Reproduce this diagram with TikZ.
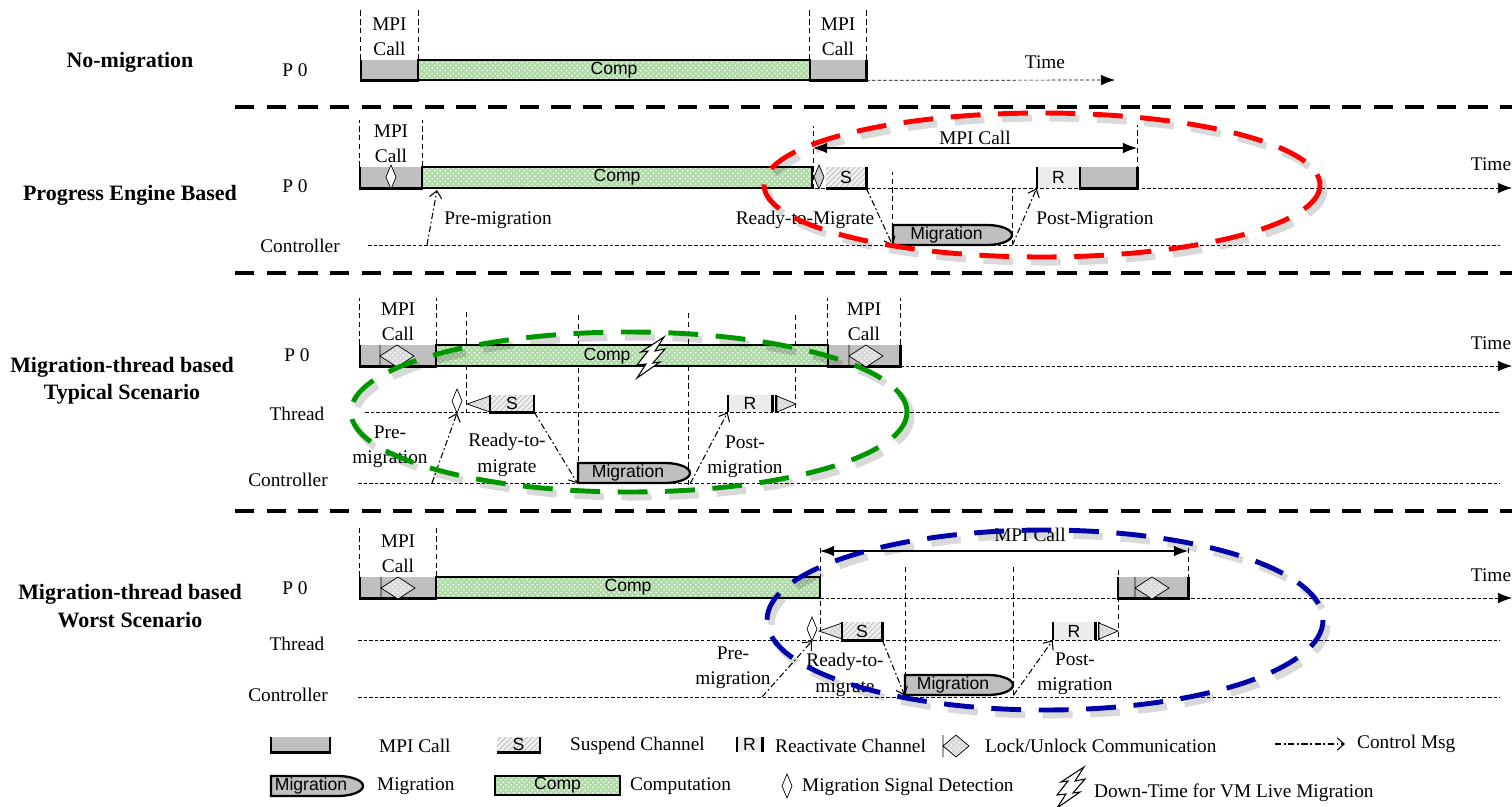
\documentclass[tikz,border=0pt]{standalone}
\usepackage{fontspec}
\setmainfont{Liberation Serif}
\setsansfont{Liberation Sans}
\usepackage{tikz}
\usetikzlibrary{arrows.meta,positioning,fit,patterns}

\definecolor{mpigray}{RGB}{191,191,191}
\definecolor{compgreen}{RGB}{176,218,168}
\definecolor{ringred}{RGB}{255,0,0}
\definecolor{ringgreen}{RGB}{0,150,0}
\definecolor{ringblue}{RGB}{0,0,170}

% pieces of a time line (corners in pixels)
\newcommand{\tlbox}[5][]{\node[#1,fit={(#3) (#4)},inner sep=0pt,
  label={[boxtxt]center:#5}] (#2) {};}
\newcommand{\mpibox}[3]{\tlbox[mpi]{#1}{#2}{#3}{}
  \draw[edge] (#1.north west) |- (#1.south east) -- (#1.north east);}
\newcommand{\migbox}[5]{%
  \draw[edge,fill=mpigray] (#2,#3) -- ({#4-25},#3)
    arc[start angle=90,end angle=-90,x radius=0.5cm,y radius=0.2cm] -- (#2,#5) -- cycle;
  \node[fit={(#2,#3) (#4,#5)},inner sep=0pt,
    label={[boxtxt,xshift=-0.12cm]center:Migration}] (#1) {};}
\newcommand{\lockmark}[2][17]{%
  \draw[lk] (#2) +(-#1,0) -- +(0,-11) -- +(#1,0) -- +(0,11) -- cycle +(0,-11) -- +(0,11);}
\newcommand{\sigmark}[2][white]{%
  \draw[thin,fill=#1] (#2) +(-5,0) -- +(0,-12) -- +(5,0) -- +(0,12) -- cycle;}
\newcommand{\lhalf}[1]{\draw[lk] (#1) +(0,-8) -- +(-23,0) -- +(0,8) -- cycle;}
\newcommand{\rhalf}[1]{\draw[lk] (#1) +(0,-8) -- +(19,0) -- +(0,8) -- cycle;}
\newcommand{\bolt}[1]{%
  \draw[semithick,fill=white] (#1) +(14,-20) -- +(5,-6) -- +(15,-8) -- +(3,6) -- +(10,5)
    -- +(-13,21) -- +(-4,7) -- +(-13,8) -- +(-2,-6) -- +(-9,-5) -- cycle;}

\begin{document}
\begin{tikzpicture}[x=0.02cm,y=-0.02cm,
  lbl/.style={font=\fontsize{11}{14.5}\selectfont,inner sep=1pt,align=center},
  ttl/.style={font=\bfseries\fontsize{12.5}{15.5}\selectfont,align=center},
  boxtxt/.style={font=\sffamily\fontsize{10}{11}\selectfont,inner sep=0pt},
  edge/.style={line width=1.3pt},
  mpi/.style={fill=mpigray},
  comp/.style={draw,edge,preaction={fill=compgreen},pattern=crosshatch dots,
               pattern color=white},
  sus/.style={preaction={fill=gray!12},pattern=north east lines,
              pattern color=gray!55},
  rea/.style={fill=gray!15},
  lk/.style={draw,thin,preaction={fill=gray!30},pattern=crosshatch dots,
             pattern color=white},
  guide/.style={thin,dash pattern=on 3pt off 2pt},
  track/.style={thin,dash pattern=on 2pt off 1.2pt},
  axis/.style={track,-{Latex[length=8pt,width=6pt]}},
  ctl/.style={semithick,dash pattern=on 3.5pt off 1.5pt on 1pt off 1.5pt,
              -{Straight Barb[length=4pt,width=7pt]}},
  span/.style={semithick,{Latex[length=8pt,width=6pt]}-{Latex[length=8pt,width=6pt]}},
  sep/.style={line width=2.2pt,dash pattern=on 11pt off 7pt},
  ring/.style={line width=2.8pt,dash pattern=on 17pt off 10pt},
  shade/.style={ring,draw=black,opacity=.15,line width=4pt}
]
\useasboundingbox (0,0) rectangle (1512,806);

\foreach \y [count=\i] in {107,273,511} {
  \coordinate (sepL\i) at (235,\y); \coordinate (sepR\i) at (1512,\y);
  \draw[sep] (sepL\i) -- (sepR\i);}

%% no migration
\node[ttl] (nm-title) at (130,62) {No-migration};
\node[lbl] (nm-p0) at (295,70) {P 0};
\mpibox{nm-mpi1}{361,60}{418,80}
\tlbox[comp]{nm-comp}{418,60}{810,80}{Comp}
\mpibox{nm-mpi2}{810,60}{866,80}
\coordinate (nm-end) at (1115,80);
\draw[axis] (nm-mpi2.south east) -- (nm-end);
\node[lbl] (nm-time) at (1045,62) {Time};
\node[lbl,above=1pt of nm-mpi1] (nm-call1) {MPI\\Call};
\node[lbl,above=1pt of nm-mpi2] (nm-call2) {MPI\\Call};
\foreach \n in {nm-mpi1,nm-mpi2}
  \draw[guide] (\n.north west) -- ++(0,-50) (\n.north east) -- ++(0,-50);

%% progress engine
\node[ttl] (pe-title) at (130,195) {Progress Engine Based};
\node[lbl] (pe-p0) at (295,186) {P 0};
\node[lbl] (pe-ctl) at (300,246) {Controller};
\coordinate (pe-c0) at (368,245); \coordinate (pe-c1) at (1500,245);
\coordinate (pe-t0) at (360,188); \coordinate (pe-t1) at (1512,188);
\draw[track] (pe-c0) -- (pe-c1);
\draw[axis] (pe-t0) -- (pe-t1);
\node[lbl] (pe-time) at (1491,164) {Time};
\mpibox{pe-mpi1}{360,167}{422,188}
\sigmark{391,177}
\tlbox[comp]{pe-comp}{422,167}{812,188}{Comp}
\sigmark[gray!40]{819,177}
\tlbox[sus]{pe-s}{826,167}{866,188}{S}
\draw[edge] (pe-s.north east) |- (pe-s.south west);
\tlbox[rea]{pe-r}{1037,167}{1080,188}{R}
\draw[edge] (pe-r.north west) -- (pe-r.south west);
\mpibox{pe-mpi2}{1080,167}{1137,188}
\migbox{pe-mig}{893}{225}{1012}{245}
\node[lbl,above=1pt of pe-mpi1] (pe-call) {MPI\\Call};
\draw[guide] (pe-mpi1.north west) -- ++(0,-47) (pe-mpi1.north east) -- ++(0,-47);
\draw[guide] (pe-comp.south east) -- ++(0,-63) (pe-mpi2.south east) -- ++(0,-63);
\draw[guide] (pe-mig.south west) -- ++(0,-73) (pe-mig.south east) -- ++(0,-57);
\coordinate (pe-sp0) at (813,148); \coordinate (pe-sp1) at (1137,148);
\draw[span] (pe-sp0) -- (pe-sp1);
\node[lbl] (pe-spl) at (975,138) {MPI Call};
\coordinate (pe-pre0) at (427,245); \coordinate (pe-pre1) at (437,190);
\draw[ctl] (pe-pre0) -- (pe-pre1);
\draw[ctl] (pe-s.south east) -- (pe-mig.south west);
\draw[ctl] (pe-mig.south east) -- (pe-r.south west);
\node[lbl] (pe-pre) at (498,220) {Pre-migration};
\node[lbl] (pe-ready) at (805,220) {Ready-to-Migrate};
\node[lbl] (pe-post) at (1095,220) {Post-Migration};
\draw[shade] (1046,190) ellipse [x radius=278,y radius=72];
\draw[ring,ringred] (1042,185) ellipse [x radius=278,y radius=72];

%% migration thread, typical
\node[ttl] (ty-title) at (122,381) {Migration-thread based\\Typical Scenario};
\node[lbl] (ty-p0) at (297,355) {P 0};
\node[lbl] (ty-thr) at (297,414) {Thread};
\node[lbl] (ty-ctl) at (288,480) {Controller};
\coordinate (ty-h0) at (365,412); \coordinate (ty-h1) at (1500,412);
\coordinate (ty-c0) at (358,483); \coordinate (ty-c1) at (1500,483);
\coordinate (ty-t0) at (900,366); \coordinate (ty-t1) at (1512,366);
\draw[track] (ty-h0) -- (ty-h1);
\draw[track] (ty-c0) -- (ty-c1);
\draw[axis] (ty-t0) -- (ty-t1);
\node[lbl] (ty-time) at (1491,343) {Time};
\foreach \x/\a/\b in {466/312/412,578/315/483,688/313/490,795/315/412}
  \draw[guide] (\x,\a) -- (\x,\b);
\mpibox{ty-mpi1}{360,345}{436,366}
\lockmark{397,356}
\tlbox[comp]{ty-comp}{436,345}{828,366}{}
\node[boxtxt] (ty-comp-t) at (607,356) {Comp};
\bolt{650,357}
\mpibox{ty-mpi2}{828,345}{900,366}
\lockmark{866,356}
\node[lbl,above=1pt of ty-mpi1] (ty-call1) {MPI\\Call};
\node[lbl,above=1pt of ty-mpi2] (ty-call2) {MPI\\Call};
\foreach \n in {ty-mpi1,ty-mpi2}
  \draw[guide] (\n.north west) -- ++(0,-47) (\n.north east) -- ++(0,-47);
\sigmark{457,401}
\lhalf{490,404}
\tlbox[sus]{ty-s}{490,395}{534,412}{S}
\draw[edge] (ty-s.north west) |- (ty-s.south east) -- (ty-s.north east);
\tlbox[rea]{ty-r}{728,395}{772,412}{R}
\draw[edge] (ty-r.north west) -- (ty-r.south west) (ty-r.north east) -- (ty-r.south east)
  ([xshift=0.07cm]ty-r.north east) -- ([xshift=0.07cm]ty-r.south east);
\rhalf{777,404}
\migbox{ty-mig}{578}{463}{690}{483}
\coordinate (ty-pre0) at (432,483); \coordinate (ty-pre1) at (457,413);
\draw[ctl] (ty-pre0) -- (ty-pre1);
\draw[ctl] (ty-s.south east) -- (ty-mig.south west);
\draw[ctl] (ty-mig.south east) -- (ty-r.south west);
\node[lbl] (ty-pre) at (390,447) {Pre-\\migration};
\node[lbl] (ty-ready) at (507,455) {Ready-to-\\migrate};
\node[lbl] (ty-post) at (745,457) {Post-\\migration};
\draw[shade] (633,417) ellipse [x radius=278,y radius=80];
\draw[ring,ringgreen] (629,412) ellipse [x radius=278,y radius=80];

%% migration thread, worst
\node[ttl] (wo-title) at (130,606) {Migration-thread based\\Worst Scenario};
\node[lbl] (wo-p0) at (295,588) {P 0};
\node[lbl] (wo-thr) at (297,644) {Thread};
\node[lbl] (wo-ctl) at (288,695) {Controller};
\coordinate (wo-h0) at (358,640); \coordinate (wo-h1) at (1500,640);
\coordinate (wo-c0) at (358,697); \coordinate (wo-c1) at (1500,697);
\coordinate (wo-t0) at (820,598); \coordinate (wo-t1) at (1512,598);
\draw[track] (wo-h0) -- (wo-h1);
\draw[track] (wo-c0) -- (wo-c1);
\draw[axis] (wo-t0) -- (wo-t1);
\node[lbl] (wo-time) at (1491,575) {Time};
\foreach \x/\a/\b in {820/548/640,1188/548/598,905/567/695,1013/567/695,1118/570/640}
  \draw[guide] (\x,\a) -- (\x,\b);
\mpibox{wo-mpi1}{360,577}{436,598}
\lockmark{398,588}
\tlbox[comp]{wo-comp}{436,577}{820,598}{Comp}
\mpibox{wo-mpi2}{1118,577}{1188,598}
\lockmark{1152,588}
\node[lbl,above=1pt of wo-mpi1] (wo-call) {MPI\\Call};
\draw[guide] (wo-mpi1.north west) -- ++(0,-49) (wo-mpi1.north east) -- ++(0,-49);
\coordinate (wo-sp0) at (820,551); \coordinate (wo-sp1) at (1188,551);
\draw[span] (wo-sp0) -- (wo-sp1);
\node[lbl] (wo-spl) at (1030,535) {MPI Call};
\sigmark{812,629}
\lhalf{842,631}
\tlbox[sus]{wo-s}{842,622}{882,640}{S}
\draw[edge] (wo-s.north west) |- (wo-s.south east) -- (wo-s.north east);
\tlbox[rea]{wo-r}{1053,622}{1095,640}{R}
\draw[edge] (wo-r.north west) -- (wo-r.south west) (wo-r.north east) -- (wo-r.south east)
  ([xshift=0.07cm]wo-r.north east) -- ([xshift=0.07cm]wo-r.south east);
\rhalf{1099,631}
\migbox{wo-mig}{905}{675}{1013}{695}
\coordinate (wo-pre0) at (762,697); \coordinate (wo-pre1) at (812,641);
\draw[ctl] (wo-pre0) -- (wo-pre1);
\draw[ctl] (wo-s.south east) -- (wo-mig.south west);
\draw[ctl] (wo-mig.south east) -- (wo-r.south west);
\node[lbl] (wo-pre) at (733,668) {Pre-\\migration};
\node[lbl] (wo-ready) at (845,675) {Ready-to-\\migrate};
\node[lbl] (wo-post) at (1075,674) {Post-\\migration};
\draw[shade] (1049,625) ellipse [x radius=278,y radius=90];
\draw[ring,ringblue] (1045,620) ellipse [x radius=278,y radius=90];

%% legend
\mpibox{lg-mpi}{271,737}{330,752}
\node[lbl,anchor=west] (lg-mpi-t) at (377,746) {MPI Call};
\tlbox[sus]{lg-s}{497,737}{540,752}{S}
\draw[edge] (lg-s.north east) |- (lg-s.south west);
\node[lbl,anchor=west] (lg-s-t) at (568,746) {Suspend Channel};
\tlbox[rea]{lg-r}{737,737}{762,752}{R}
\draw[edge] (lg-r.north west) -- (lg-r.south west) (lg-r.north east) -- (lg-r.south east);
\node[lbl,anchor=west] (lg-r-t) at (773,746) {Reactivate Channel};
\lockmark[13]{956,746}
\node[lbl,anchor=west] (lg-lk-t) at (983,746) {Lock/Unlock Communication};
\coordinate (lg-c0) at (1275,744); \coordinate (lg-c1) at (1345,744);
\draw[ctl] (lg-c0) -- (lg-c1);
\node[lbl,anchor=west] (lg-c-t) at (1355,744) {Control Msg};
\migbox{lg-mig}{271}{776}{363}{796}
\node[lbl,anchor=west] (lg-mig-t) at (375,786) {Migration};
\tlbox[comp]{lg-comp}{495,776}{620,795}{Comp}
\node[lbl,anchor=west] (lg-comp-t) at (628,786) {Computation};
\sigmark{787,786}
\node[lbl,anchor=west] (lg-sig-t) at (800,787) {Migration Signal Detection};
\bolt{1070,787}
\node[lbl,anchor=west] (lg-bolt-t) at (1092,793) {Down-Time for VM Live Migration};
\end{tikzpicture}
\end{document}
